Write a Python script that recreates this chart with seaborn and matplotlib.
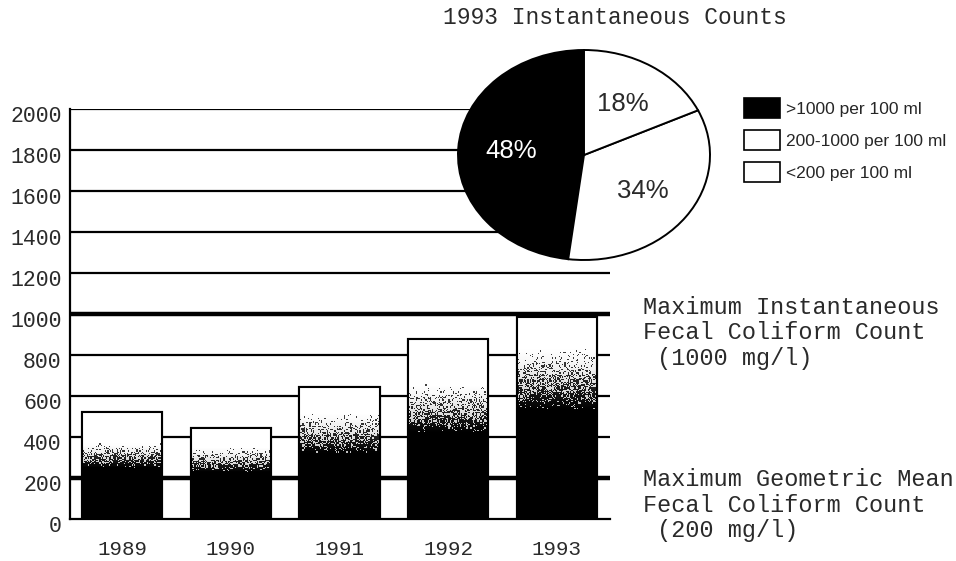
import numpy as np
import pandas as pd
import matplotlib
matplotlib.use("Agg")
import matplotlib.pyplot as plt
import matplotlib.transforms as mtransforms
from matplotlib.patches import Patch, Rectangle
import seaborn as sns

# ---- data -------------------------------------------------------------
years = ["1989", "1990", "1991", "1992", "1993"]
max_counts = [520, 445, 645, 880, 985]
# shading on each bar: solid below shade_low, fading out by shade_high
shade_low = [250, 225, 320, 420, 530]
shade_high = [370, 350, 515, 660, 840]
y_ticks = [0, 200, 400, 600, 800, 1000, 1200, 1400, 1600, 1800, 2000]
standards = [200, 1000]

pie_shares = [48, 34, 18]
pie_labels = [">1000 per 100 ml", "200-1000 per 100 ml", "<200 per 100 ml"]
pie_colors = ["black", "white", "white"]
pie_title = "1993 Instantaneous Counts"

note_inst = ["Maximum Instantaneous", "Fecal Coliform Count", " (1000 mg/l)"]
note_geo = ["Maximum Geometric Mean", "Fecal Coliform Count", " (200 mg/l)"]

# ---- style ------------------------------------------------------------
sns.set_theme(style="white")
plt.rcParams["font.family"] = ["Liberation Mono", "DejaVu Sans Mono"]
ink = "#2a2a2a"
mono = "Liberation Mono"
sans = "Liberation Sans"

W, H = 956, 561
fig = plt.figure(figsize=(W / 100, H / 100), dpi=100)
fig.patch.set_facecolor("white")


def fx(px):
    return px / W


def fy(py):
    return 1 - py / H


# ---- bar chart --------------------------------------------------------
ax = fig.add_axes([fx(70), 42 / H, 540 / W, 410 / H])
ax.set_facecolor("white")

df = pd.DataFrame({"year": years, "count": max_counts})
sns.barplot(data=df, x="year", y="count", ax=ax, color="white",
            saturation=1, width=0.74, edgecolor="black", linewidth=1.5,
            zorder=1)

for v in y_ticks[1:]:
    ax.axhline(v, color="black", lw=3.2 if v in standards else 1.6,
               zorder=0.5, solid_capstyle="butt")

rng = np.random.default_rng(7)
bars = [p for p in ax.patches if isinstance(p, Rectangle)]
for p, lo, hi in zip(bars, shade_low, shade_high):
    x0, w, h = p.get_x(), p.get_width(), p.get_height()
    nx = 70
    ny = max(int(h / 2000 * 410 / 1.15), 2)
    yc = (np.arange(ny) + 0.5) / ny * h
    prob = np.clip((hi - yc) / (hi - lo), 0, 1) ** 1.3
    prob = np.repeat(prob[:, None], nx, axis=1)
    dots = (rng.random((ny, nx)) < prob).astype(float)
    img = 0.75 * dots + 0.25 * prob
    im = ax.imshow(img, cmap="gray_r", vmin=0, vmax=1, origin="lower",
                   extent=[x0, x0 + w, 0, h], aspect="auto",
                   interpolation="nearest", zorder=1.5)
    im.set_clip_path(p)
    ax.add_patch(Rectangle((x0, 0), w, h, fill=False, edgecolor="black",
                           lw=1.5, zorder=3))

ax.set_xlim(-0.48, 4.49)
ax.set_ylim(0, 2000)
ax.set_yticks(y_ticks)
ax.set_yticklabels([str(v) for v in y_ticks])
ax.set_xlabel("")
ax.set_ylabel("")
ax.set_xticks(range(len(years)))
ax.set_xticklabels(years)
ax.set_xticks([0.5, 1.5, 2.5, 3.5, 4.49], minor=True)
ax.tick_params(axis="x", which="major", length=0, pad=15,
               labelsize=15, labelcolor=ink)
ax.tick_params(axis="x", which="minor", direction="in", length=6,
               width=1.5, color="black")
ax.tick_params(axis="y", which="major", direction="out", length=3,
               width=1.5, color="black", pad=3, labelsize=15.5,
               labelcolor=ink)
for lab in ax.get_yticklabels():
    lab.set_fontfamily(mono)
    lab.set_transform(lab.get_transform() + mtransforms.ScaledTranslation(
        0, -5 / 100, fig.dpi_scale_trans))
for lab in ax.get_xticklabels():
    lab.set_fontfamily(mono)

for side in ("top", "right"):
    ax.spines[side].set_visible(False)
for side in ("left", "bottom"):
    ax.spines[side].set_color("black")
    ax.spines[side].set_linewidth(1.6)

# ---- pie inset --------------------------------------------------------
cx, cy, rx, ry = 584, 155, 126, 105
pad = 1.04
pax = fig.add_axes([fx(cx - rx * pad), fy(cy + ry * pad),
                    2 * rx * pad / W, 2 * ry * pad / H])
wedges, _, autotexts = pax.pie(
    pie_shares, colors=pie_colors, startangle=90, counterclock=True,
    autopct=lambda v: f"{v:.0f}%", pctdistance=0.58,
    wedgeprops=dict(edgecolor="black", linewidth=1.4),
    textprops=dict(fontfamily=sans, fontsize=18.5))
for t, c in zip(autotexts, pie_colors):
    t.set_color("white" if c == "black" else ink)
pax.set_aspect("auto")
pax.set_xlim(-pad, pad)
pax.set_ylim(-pad, pad)
pax.axis("off")

fig.text(fx(443), fy(18), pie_title, ha="left", va="center",
         fontfamily=mono, fontsize=16.5, color=ink)

handles = [Patch(facecolor=c, edgecolor="black", linewidth=1.2)
           for c in pie_colors]
fig.legend(handles, pie_labels, loc="upper left",
           bbox_to_anchor=(fx(744), fy(98)), frameon=False,
           borderpad=0, borderaxespad=0, handlelength=2.1,
           handleheight=1.4, labelspacing=0.68, handletextpad=0.3,
           prop=dict(family=sans, size=12.5))

# ---- standards notes --------------------------------------------------
for i, line in enumerate(note_inst):
    fig.text(fx(643), fy(307 + 25.5 * i), line, ha="left", va="center",
             fontfamily=mono, fontsize=16.9, color=ink)
for i, line in enumerate(note_geo):
    fig.text(fx(643), fy(480 + 25.5 * i), line, ha="left", va="center",
             fontfamily=mono, fontsize=16.9, color=ink)

fig.savefig("out.png", dpi=100, facecolor="white")
